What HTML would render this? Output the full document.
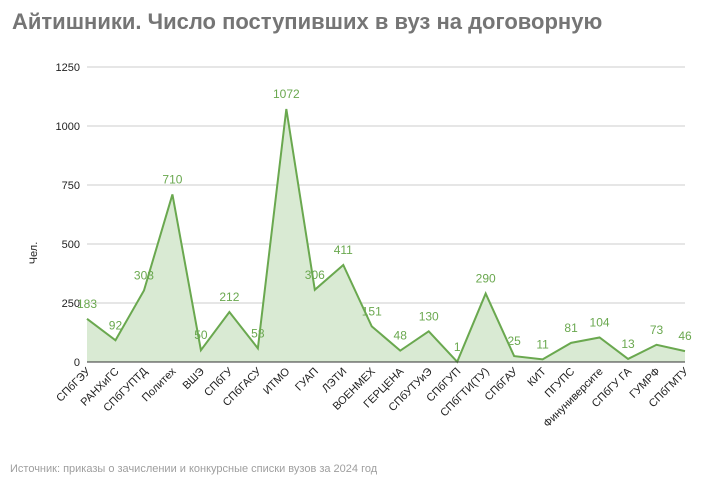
<!DOCTYPE html>
<html><head><meta charset="utf-8"><style>
body{margin:0;background:#fff;font-family:"Liberation Sans",sans-serif}
svg{display:block}
</style></head><body>
<svg id="c" width="709" height="485" xmlns="http://www.w3.org/2000/svg">
<text x="12" y="29" font-size="22" font-weight="bold" fill="#757575">Айтишники. Число поступивших в вуз на договорную</text>
<text x="37" y="253" font-size="11" fill="#222" transform="rotate(-90 37 253)" text-anchor="middle">Чел.</text>
<text x="10" y="472" font-size="11" fill="#9e9e9e">Источник: приказы о зачислении и конкурсные списки вузов за 2024 год</text>
<g id="grid"></g><g id="area"></g><g id="labels"></g>
</svg>
<script>
const categories=["СПбГЭУ","РАНХиГС","СПбГУПТД","Политех","ВШЭ","СПбГУ","СПбГАСУ","ИТМО","ГУАП","ЛЭТИ","ВОЕНМЕХ","ГЕРЦЕНА","СПбУТУиЭ","СПбГУП","СПбГТИ(ТУ)","СПбГАУ","КИТ","ПГУПС","Финуниверсите","СПбГУ ГА","ГУМРФ","СПбГМТУ"];
const values=[183,92,303,710,50,212,58,1072,306,411,151,48,130,1,290,25,11,81,104,13,73,46];
const ticks=[0,250,500,750,1000,1250];
const NS="http://www.w3.org/2000/svg";
const x0=87,x1=685,y0=362,yTop=67,maxV=1250;
const X=i=>x0+i*(x1-x0)/(categories.length-1);
const Y=v=>y0-v*(y0-yTop)/maxV;
function mk(t,a,p){const e=document.createElementNS(NS,t);for(const k in a)e.setAttribute(k,a[k]);p.appendChild(e);return e;}
const g=document.getElementById('grid');
ticks.forEach(t=>{
 const l=mk('line',{x1:x0,x2:x1,y1:Y(t),y2:Y(t),stroke:t?'#cccccc':'#333',"stroke-width":1},g);
 
 
 const tx=mk('text',{x:80,y:Y(t)+4,"font-size":11,"text-anchor":"end",fill:"#222"},g);tx.textContent=t;
 
 
});
const a=document.getElementById('area');
let pts=values.map((v,i)=>X(i)+','+Y(v)).join(' ');
const poly=mk('polygon',{points:X(0)+','+y0+' '+pts+' '+X(values.length-1)+','+y0,fill:'#d9ead3'},a);


const line=mk('polyline',{points:pts,fill:'none',stroke:'#6aa84f',"stroke-width":2},a);


mk('line',{x1:x0,x2:x1,y1:y0,y2:y0,stroke:'#333'},a);
const lb=document.getElementById('labels');
values.forEach((v,i)=>{
 const t=mk('text',{x:X(i),y:Y(v)-11,"font-size":12,"text-anchor":"middle",fill:"#6aa84f"},lb);t.textContent=v;
 
 
 const c=mk('text',{x:X(i)+4,y:372,"font-size":11,"text-anchor":"end",fill:"#222",transform:`rotate(-45 ${X(i)+4} 372)`},lb);c.textContent=categories[i];
 
 
});
</script>
</body></html>
